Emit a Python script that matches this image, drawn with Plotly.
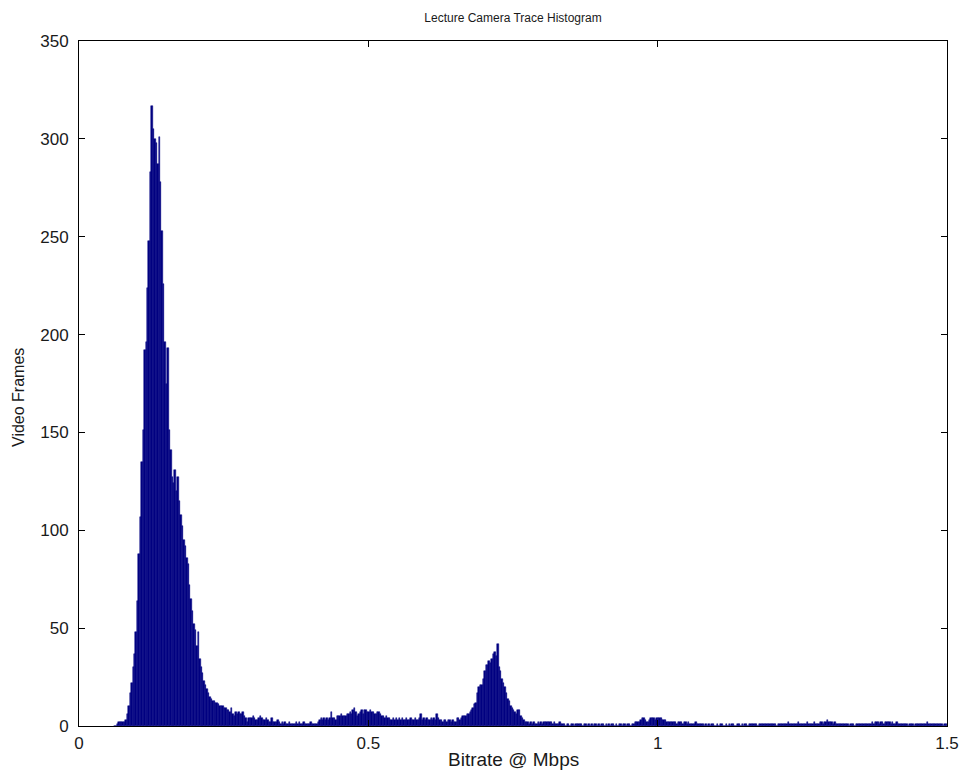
import numpy as np
import plotly.graph_objects as go

# ---------------- data ----------------
TITLE = "Lecture Camera Trace Histogram"
X_LABEL = "Bitrate @ Mbps"
Y_LABEL = "Video Frames"

BIN_START = 0.06      # Mbps, left edge of first bin
BIN_WIDTH = 0.0025    # Mbps

# frame counts per bin
frame_counts = [
    0, 0, 1, 2, 2, 2, 2, 2, 3, 6,
    10, 17, 22, 30, 37, 48, 64, 88, 107, 135,
    151, 192, 196, 224, 248, 283, 317, 305, 300, 298,
    287, 301, 278, 253, 226, 196, 175, 193, 151, 141,
    127, 124, 131, 120, 127, 115, 108, 102, 95, 92,
    86, 83, 72, 65, 59, 52, 49, 41, 48, 34,
    30, 27, 23, 21, 19, 17, 15, 14, 13, 13,
    12, 12, 11, 10, 10, 10, 9, 9, 8, 8,
    7, 9, 6, 5, 7, 6, 7, 6, 6, 7,
    5, 4, 2, 4, 4, 4, 5, 4, 3, 3,
    4, 5, 4, 3, 3, 4, 3, 2, 2, 4,
    2, 2, 2, 3, 2, 1, 2, 1, 2, 1,
    1, 2, 1, 1, 1, 1, 2, 1, 2, 1,
    1, 2, 1, 1, 1, 1, 2, 1, 1, 1,
    1, 2, 3, 4, 3, 4, 3, 4, 3, 4,
    7, 4, 4, 3, 5, 5, 5, 6, 5, 5,
    5, 6, 6, 7, 6, 8, 9, 7, 5, 6,
    7, 8, 6, 8, 8, 7, 7, 8, 7, 7,
    6, 6, 7, 7, 6, 5, 5, 4, 5, 4,
    4, 3, 3, 4, 3, 4, 3, 4, 3, 4,
    3, 3, 4, 3, 3, 4, 3, 3, 4, 3,
    3, 4, 6, 3, 4, 3, 4, 3, 3, 4,
    3, 4, 3, 6, 4, 3, 3, 2, 3, 3,
    2, 3, 3, 2, 3, 2, 2, 4, 4, 3,
    4, 5, 5, 5, 6, 6, 7, 8, 9, 11,
    12, 17, 20, 21, 21, 24, 28, 31, 31, 33,
    32, 34, 37, 38, 36, 42, 30, 28, 24, 22,
    20, 17, 14, 13, 10, 9, 8, 7, 6, 8,
    8, 5, 4, 3, 2, 2, 2, 1, 2, 1,
    2, 1, 1, 2, 1, 2, 1, 2, 2, 2,
    2, 2, 2, 1, 2, 1, 1, 1, 2, 1,
    1, 1, 0, 1, 1, 0, 1, 1, 0, 1,
    1, 1, 1, 1, 0, 1, 1, 0, 1, 0,
    1, 0, 1, 1, 0, 1, 0, 1, 1, 0,
    1, 0, 1, 0, 1, 1, 0, 1, 0, 1,
    1, 0, 1, 1, 0, 1, 1, 0, 1, 1,
    2, 2, 2, 2, 3, 4, 4, 3, 2, 2,
    3, 4, 4, 4, 3, 4, 4, 4, 4, 3,
    3, 3, 2, 2, 2, 2, 2, 2, 2, 1,
    2, 2, 2, 1, 2, 2, 1, 2, 1, 1,
    1, 1, 2, 1, 1, 1, 1, 1, 0, 1,
    0, 1, 0, 1, 1, 0, 0, 1, 0, 1,
    1, 0, 0, 1, 0, 1, 0, 1, 1, 0,
    0, 1, 1, 0, 1, 0, 1, 1, 0, 1,
    1, 1, 1, 1, 1, 0, 1, 1, 1, 1,
    1, 1, 1, 1, 1, 1, 1, 1, 0, 1,
    1, 1, 1, 1, 1, 1, 2, 1, 1, 1,
    1, 1, 1, 2, 1, 1, 1, 1, 1, 2,
    1, 1, 1, 1, 2, 1, 1, 1, 2, 2,
    1, 2, 2, 3, 2, 2, 2, 1, 2, 1,
    1, 1, 1, 1, 1, 1, 1, 1, 0, 1,
    1, 1, 0, 1, 1, 1, 1, 1, 1, 1,
    1, 1, 1, 1, 2, 1, 2, 2, 2, 1,
    2, 2, 1, 2, 2, 2, 2, 1, 2, 1,
    1, 2, 1, 1, 1, 1, 1, 1, 1, 0,
    1, 1, 1, 0, 1, 1, 1, 1, 1, 1,
    1, 1, 2, 1, 1, 1, 1, 1, 1, 1,
    1, 1, 1, 0, 1, 1,
]

x_ticks = [0, 0.5, 1, 1.5]
x_tick_labels = ["0", "0.5", "1", "1.5"]
y_ticks = [0, 50, 100, 150, 200, 250, 300, 350]
y_tick_labels = ["0", "50", "100", "150", "200", "250", "300", "350"]

# ---------------- figure ----------------
bin_centers = BIN_START + BIN_WIDTH * (np.arange(len(frame_counts)) + 0.5)

BAR_COLOR = "#000080"
FONT = "Liberation Sans, Arial, Helvetica, sans-serif"
TEXT_COLOR = "#1a1a1a"

fig = go.Figure(
    go.Bar(
        x=bin_centers,
        y=frame_counts,
        width=BIN_WIDTH,
        marker=dict(color=BAR_COLOR, line=dict(color=BAR_COLOR, width=0.5)),
        hoverinfo="x+y",
    )
)

axis_common = dict(
    showline=True,
    linecolor="black",
    linewidth=1,
    mirror="allticks",
    ticks="inside",
    ticklen=6,
    tickwidth=1,
    tickcolor="black",
    showgrid=False,
    zeroline=False,
    automargin=False,
    ticklabeloverflow="allow",
    tickfont=dict(family=FONT, size=17, color=TEXT_COLOR),
)

W, H = 960, 773
L, T, R, B = 79, 41, 13, 47
PW, PH = W - L - R, H - T - B

fig.update_layout(
    width=W,
    height=H,
    margin=dict(l=L, r=R, t=T, b=B, autoexpand=False),
    paper_bgcolor="white",
    plot_bgcolor="white",
    bargap=0,
    showlegend=False,
    font=dict(family=FONT, color=TEXT_COLOR),
    title=dict(
        text=TITLE,
        x=(L + PW / 2) / W, xanchor="center",
        y=1 - 18 / H, yanchor="middle",
        font=dict(family=FONT, size=12, color=TEXT_COLOR),
    ),
    xaxis=dict(
        range=[0, 1.5],
        tickvals=x_ticks,
        ticktext=x_tick_labels,
        ticklabelstandoff=2,
        **axis_common,
    ),
    yaxis=dict(
        range=[0, 350],
        tickvals=y_ticks,
        ticktext=y_tick_labels,
        ticklabelstandoff=6,
        **axis_common,
    ),
    annotations=[
        dict(
            text=X_LABEL, xref="paper", yref="paper",
            x=0.5, y=-(760 - (T + PH)) / PH,
            xanchor="center", yanchor="middle", showarrow=False,
            font=dict(family=FONT, size=19, color=TEXT_COLOR),
        ),
        dict(
            text=Y_LABEL, xref="paper", yref="paper",
            x=-(L - 18) / PW, y=(T + PH - 398) / PH,
            xanchor="center", yanchor="middle", showarrow=False, textangle=-90,
            font=dict(family=FONT, size=16, color=TEXT_COLOR),
        ),
    ],
)

# remove the default 8px page margin so the figure fills the window exactly
fig.write_html(
    "out.html",
    config={"displayModeBar": False},
    post_script="document.body.style.margin='0';document.body.style.overflow='hidden';",
)
